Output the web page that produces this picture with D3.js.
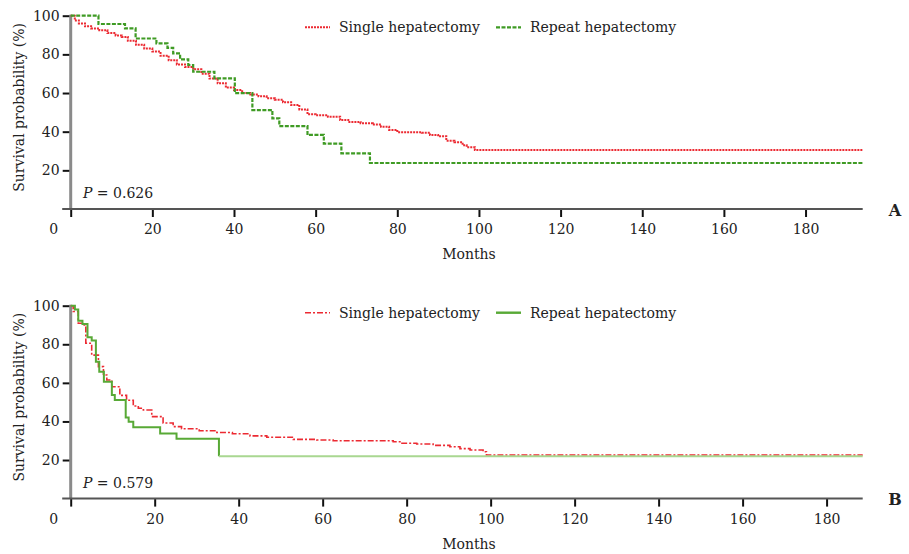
<!DOCTYPE html>
<html>
<head>
<meta charset="utf-8">
<script src="https://cdn.jsdelivr.net/npm/d3@7"></script>
<style>
  body { margin: 0; background: #fff; }
  svg text { font-family: "DejaVu Serif", serif; fill: #222; }
</style>
</head>
<body>
<svg id="chart" width="909" height="554"></svg>
<script>
// ---- data (months, survival %) ----
const xTicks = [0, 20, 40, 60, 80, 100, 120, 140, 160, 180];
const yTicks = [20, 40, 60, 80, 100];
const seriesNames = ["Single hepatectomy", "Repeat hepatectomy"];

// panel A
const monthsA_single = [0, 1, 2, 3.5, 5, 7, 9, 11, 12.5, 14, 16, 18, 20, 22, 24, 26, 28, 30, 32, 34, 36, 38, 40, 42, 44, 46, 48, 50, 52, 54, 56, 58, 60, 63, 66, 68, 71, 74, 76, 78, 80, 86, 88, 90, 92, 94, 96, 97, 99, 194];
const survA_single   = [100, 97.5, 96, 94.5, 93.4, 92.5, 91, 89.8, 89, 87, 85, 83, 81.5, 79.3, 77, 74.8, 73.5, 72.3, 70, 67.5, 65, 62.8, 61.5, 60, 59.2, 58.3, 57.3, 56.5, 55.2, 53.8, 51.5, 49, 48.5, 47.7, 46, 45, 44.3, 43.7, 42.5, 40.9, 39.7, 39.5, 38.3, 37.6, 35.3, 34.5, 33, 32, 30.5, 30.5];
const monthsA_repeat = [0, 6.8, 13.3, 15.9, 21, 23.7, 25.1, 26.8, 28.8, 30, 35.2, 40.2, 44.5, 49.4, 51.1, 58, 62, 66.3, 73.3, 194];
const survA_repeat   = [100, 95.7, 93.4, 88.2, 85.7, 83.4, 80.5, 77.4, 74.5, 71, 67.6, 59.9, 51.2, 46.9, 42.9, 38.3, 33.8, 28.8, 23.8, 23.8];

// panel B
const monthsB_single = [0, 0.6, 1.8, 3, 3.6, 5, 6.6, 7.8, 8.6, 9.8, 11.7, 13.3, 14.9, 16.1, 17.3, 19.3, 22, 24.4, 26.4, 30.6, 34.8, 38.5, 42.7, 46.7, 53, 58.6, 62.5, 70.5, 76.8, 78.4, 82.4, 86.3, 90.3, 92.7, 95.1, 98.2, 99, 188.6];
const survB_single   = [100, 97, 90.9, 90, 80.5, 74.4, 68.4, 64.1, 61.5, 58, 53.5, 51, 48, 46.8, 45.9, 42.5, 39.2, 37.3, 36.2, 35.2, 34.3, 33.6, 32.5, 31.8, 30.7, 30.4, 30, 30, 29.5, 28.7, 28.3, 27.6, 26.9, 25.9, 25.2, 24.3, 22.6, 22.6];
const monthsB_repeat = [0, 1, 1.8, 2.8, 4, 5, 6, 6.8, 7.9, 9.8, 10.5, 13.1, 13.8, 14.9, 21.3, 25.2, 35.3, 188.6];
const survB_repeat   = [100, 98, 92.2, 90.5, 83.6, 81.9, 71, 65.8, 60.6, 53.7, 51.1, 42.1, 39.9, 37, 33.8, 31, 22, 22];

const pValues = ["0.626", "0.579"];
const panelLabels = ["A", "B"];

const RED = "#ec2a32", GREEN_A = "#3f9b24", GREEN_B = "#58a936", GREEN_LIGHT = "#a9d791";

const svg = d3.select("#chart");

function zip(ms, vs) {
  return ms.map((m, i) => [m, vs[i]]);
}

function drawPanel(p) {
  const g = svg.append("g");
  const x = d3.scaleLinear().domain([0, p.xMax]).range([70.7, 862.7]);
  const y = d3.scaleLinear().domain([0, 100]).range([p.bottom, p.top]);

  // axes
  const xAxis = g.append("g")
      .attr("transform", "translate(0," + p.bottom + ")")
      .call(d3.axisBottom(x).tickValues(xTicks).tickSize(8).tickPadding(7)
            .tickFormat(d => d === 0 ? "" : d));
  const yAxis = g.append("g")
      .attr("transform", "translate(" + x(0) + ",0)")
      .call(d3.axisLeft(y).tickValues(yTicks).tickSize(8).tickPadding(3));
  [xAxis, yAxis].forEach(a => {
    a.select(".domain").remove();
    a.selectAll(".tick line").attr("stroke", "#111").attr("stroke-width", 2);
    a.selectAll(".tick text").style("font-size", "14px").attr("fill", "#222");
  });
  g.append("text")
      .attr("x", x(0) - 17)
      .attr("y", p.bottom + 15)
      .attr("dy", "0.71em")
      .attr("text-anchor", "middle")
      .style("font-size", "14px")
      .text("0");

  g.append("line")
      .attr("x1", x(0)).attr("x2", x(0))
      .attr("y1", y(100) - 1).attr("y2", p.bottom)
      .attr("stroke", "#8a8a8a").attr("stroke-width", 3);
  g.append("line")
      .attr("x1", x(0) - 8.5).attr("x2", x(p.xMax))
      .attr("y1", p.bottom).attr("y2", p.bottom)
      .attr("stroke", "#555").attr("stroke-width", 2);

  // axis titles
  g.append("text")
      .attr("transform", "translate(19," + ((p.top + p.bottom) / 2 - 5) + ") rotate(-90)")
      .attr("dy", "0.35em")
      .attr("text-anchor", "middle")
      .style("font-size", "14px")
      .text("Survival probability (%)");
  g.append("text")
      .attr("x", 469)
      .attr("y", p.bottom + 45)
      .attr("dy", "0.35em")
      .attr("text-anchor", "middle")
      .style("font-size", "14px")
      .text("Months");

  // curves
  const line = d3.line()
      .curve(d3.curveStepAfter)
      .x(d => x(d[0]))
      .y(d => y(d[1]));

  p.series.forEach(s => {
    g.append("path")
        .datum(s.data)
        .attr("fill", "none")
        .attr("stroke", s.color)
        .attr("stroke-width", s.width)
        .attr("stroke-dasharray", s.dash)
        .attr("d", line);
  });

  // legend
  p.series.forEach((s, i) => {
    const lx = i === 0 ? 305 : 496;
    g.append("line")
        .attr("x1", lx).attr("x2", lx + 25)
        .attr("y1", p.legendY).attr("y2", p.legendY)
        .attr("stroke", s.legendColor || s.color)
        .attr("stroke-width", s.width)
        .attr("stroke-dasharray", s.dash);
    g.append("text")
        .attr("x", lx + 34)
        .attr("y", p.legendY)
        .attr("dy", "0.35em")
        .style("font-size", "14px")
        .text(seriesNames[i]);
  });

  // P value
  const pt = g.append("text")
      .attr("x", 83)
      .attr("y", p.bottom - 16)
      .attr("dy", "0.35em")
      .style("font-size", "14px");
  pt.append("tspan").style("font-style", "italic").text("P");
  pt.append("tspan").text(" = " + p.pValue);

  // panel letter
  g.append("text")
      .attr("x", 895)
      .attr("y", p.bottom + 1)
      .attr("dy", "0.35em")
      .attr("text-anchor", "middle")
      .style("font-size", "16px")
      .style("font-weight", "bold")
      .attr("fill", "#111")
      .text(p.label);
}

drawPanel({
  top: 15.7, bottom: 209, xMax: 194, legendY: 27.3,
  pValue: pValues[0], label: panelLabels[0],
  series: [
    { data: zip(monthsA_single, survA_single), color: RED, width: 2, dash: "2,1" },
    { data: zip(monthsA_repeat, survA_repeat), color: GREEN_A, width: 2.2, dash: "4,1.5" }
  ]
});

const repeatB = zip(monthsB_repeat, survB_repeat);
drawPanel({
  top: 305.7, bottom: 498.6, xMax: 188.6, legendY: 312.7,
  pValue: pValues[1], label: panelLabels[1],
  series: [
    { data: zip(monthsB_single, survB_single), color: RED, width: 1.6, dash: "6,2,2,2" },
    { data: repeatB.filter(d => d[0] <= 35.3), color: GREEN_B, width: 2, dash: null },
    { data: repeatB.filter(d => d[0] >= 35.3), color: GREEN_LIGHT, width: 2, dash: null, legendColor: GREEN_B }
  ].slice(0, 3)
});
</script>
</body>
</html>
